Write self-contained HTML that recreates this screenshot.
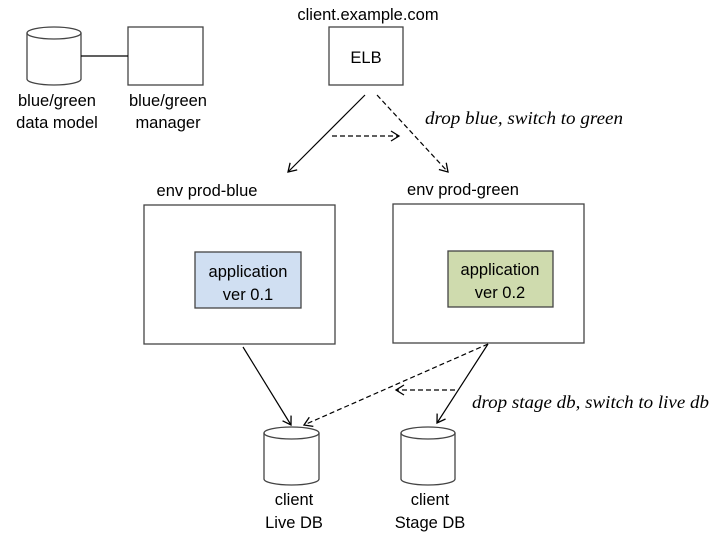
<!DOCTYPE html>
<html><head><meta charset="utf-8"><style>
html,body{margin:0;padding:0;background:#fff;}
svg{display:block;}
.t{font-family:"Liberation Sans",sans-serif;font-size:16.5px;fill:#000;text-anchor:middle;}
.i{font-family:"Liberation Serif",serif;font-style:italic;font-size:18px;fill:#000;}
</style></head><body>
<svg width="716" height="534" viewBox="0 0 716 534" xmlns="http://www.w3.org/2000/svg">
<defs>
<marker id="a" markerWidth="12" markerHeight="12" refX="10" refY="6" orient="auto" markerUnits="userSpaceOnUse">
<path d="M2,1 L10,6 L2,11" fill="none" stroke="#000" stroke-width="1.3"/></marker>
</defs>
<g stroke="#444" stroke-width="1.3" fill="#fff">
<path d="M27,33 L27,79 A27,6 0 0 0 81,79 L81,33"/>
<ellipse cx="54" cy="33" rx="27" ry="6"/>
<rect x="128" y="27" width="75" height="58"/>
<rect x="329" y="27" width="74" height="58"/>
<rect x="144" y="205" width="191" height="139"/>
<rect x="393" y="204" width="191" height="139"/>
<rect x="195" y="252" width="106" height="56" fill="#d0dff2"/>
<rect x="448" y="251" width="105" height="56" fill="#cfdbae"/>
<path d="M264,433 L264,479 A27.5,6 0 0 0 319,479 L319,433"/>
<ellipse cx="291.5" cy="433" rx="27.5" ry="6"/>
<path d="M401,433 L401,479 A27,6 0 0 0 455,479 L455,433"/>
<ellipse cx="428" cy="433" rx="27" ry="6"/>
</g>
<line x1="81" y1="56" x2="128" y2="56" stroke="#000" stroke-width="1.2"/>
<g stroke="#000" stroke-width="1.2" fill="none" marker-end="url(#a)">
<line x1="365" y1="95" x2="288" y2="172"/>
<line x1="377" y1="95" x2="448" y2="172" stroke-dasharray="5,3"/>
<line x1="332" y1="136" x2="399" y2="136" stroke-dasharray="5,3"/>
<line x1="243" y1="347" x2="291" y2="425"/>
<line x1="488" y1="344" x2="437" y2="423"/>
<line x1="488" y1="344" x2="304" y2="425" stroke-dasharray="5,3"/>
<line x1="455" y1="390" x2="396" y2="390" stroke-dasharray="5,3"/>
</g>
<text class="t" x="368" y="20">client.example.com</text>
<text class="t" x="366" y="63">ELB</text>
<text class="t" x="57" y="106">blue/green</text>
<text class="t" x="57" y="128">data model</text>
<text class="t" x="168" y="106">blue/green</text>
<text class="t" x="168" y="128">manager</text>
<text class="t" x="207" y="196">env prod-blue</text>
<text class="t" x="463" y="195">env prod-green</text>
<text class="t" x="248" y="277">application</text>
<text class="t" x="248" y="300">ver 0.1</text>
<text class="t" x="500" y="275">application</text>
<text class="t" x="500" y="298">ver 0.2</text>
<text class="t" x="294" y="505">client</text>
<text class="t" x="294" y="528">Live DB</text>
<text class="t" x="430" y="505">client</text>
<text class="t" x="430" y="528">Stage DB</text>
<text class="i" x="425" y="124" textLength="198" lengthAdjust="spacingAndGlyphs">drop blue, switch to green</text>
<text class="i" x="472" y="408" textLength="237" lengthAdjust="spacingAndGlyphs">drop stage db, switch to live db</text>
</svg>
</body></html>
